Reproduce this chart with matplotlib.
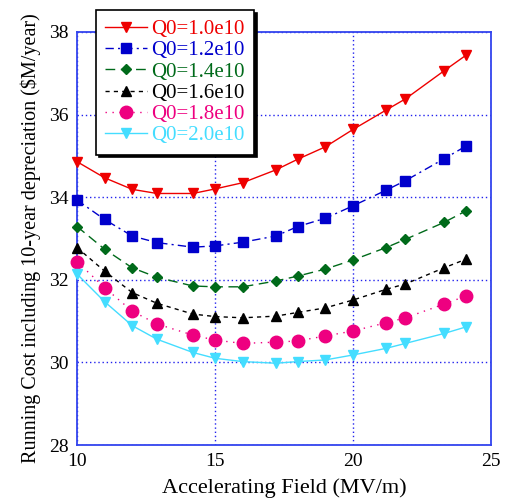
"""Running cost vs accelerating field for several Q0 values."""
import matplotlib
matplotlib.use("Agg")
import matplotlib.pyplot as plt

field = [10.0, 11.0, 12.0, 12.9, 14.2, 15.0, 16.0, 17.2, 18.0, 19.0, 20.0, 21.2, 21.9, 23.3, 24.1]

labels = ["Q0=1.0e10", "Q0=1.2e10", "Q0=1.4e10", "Q0=1.6e10", "Q0=1.8e10", "Q0=2.0e10"]
cost_10 = [34.86, 34.47, 34.19, 34.09, 34.09, 34.20, 34.35, 34.66, 34.92, 35.22, 35.64, 36.11, 36.38, 37.06, 37.44]
cost_12 = [33.93, 33.46, 33.06, 32.90, 32.79, 32.82, 32.91, 33.06, 33.29, 33.49, 33.79, 34.17, 34.40, 34.93, 35.24]
cost_14 = [33.29, 32.74, 32.29, 32.06, 31.85, 31.83, 31.83, 31.97, 32.09, 32.26, 32.48, 32.78, 32.98, 33.39, 33.67]
cost_16 = [32.78, 32.21, 31.69, 31.43, 31.17, 31.11, 31.08, 31.12, 31.21, 31.32, 31.51, 31.77, 31.90, 32.29, 32.50]
cost_18 = [32.44, 31.81, 31.24, 30.93, 30.66, 30.54, 30.46, 30.49, 30.52, 30.64, 30.76, 30.96, 31.08, 31.41, 31.61]
cost_20 = [32.14, 31.47, 30.89, 30.56, 30.24, 30.10, 30.02, 29.98, 30.02, 30.06, 30.18, 30.34, 30.46, 30.70, 30.86]
series = [cost_10, cost_12, cost_14, cost_16, cost_18, cost_20]

colors = ["#ee0000", "#0000cc", "#006a1a", "#000000", "#ee0080", "#44ddff"]
markers = ["v", "s", "D", "^", "o", "v"]
msizes = [7, 6.5, 5.5, 7, 9, 7]
styles = ["-", (0, (6, 3, 1.5, 3)), (0, (7, 4)), (0, (3, 3)), (0, (1, 4)), "-"]

plt.rcParams["font.family"] = ["Liberation Serif", "DejaVu Serif"]

fig = plt.figure(figsize=(5.08, 5.03), dpi=100)
ax = fig.add_axes([0.1516, 0.1153, 0.8149, 0.8211])

for y, lab, c, m, ms, ls in zip(series, labels, colors, markers, msizes, styles):
    ax.plot(field, y, color=c, marker=m, markersize=ms, linestyle=ls,
            linewidth=1.0, label=lab, clip_on=False, zorder=3)

ax.set_xlim(10, 25)
ax.set_ylim(28, 38)
ax.set_xticks([10, 15, 20, 25])
ax.set_yticks([28, 30, 32, 34, 36, 38])
ax.grid(True, color="#2222ee", linestyle=(0, (1, 2)), linewidth=1.0)
for sp in ax.spines.values():
    sp.set_color("#3344ee")
    sp.set_linewidth(1.3)
ax.tick_params(length=0, labelsize=14, pad=6)
ax.set_xlabel("Accelerating Field (MV/m)", fontsize=16, labelpad=6)
ax.set_ylabel("Running Cost including 10-year depreciation ($M/year)", fontsize=14.5, labelpad=6)

leg = ax.legend(loc="upper left", bbox_to_anchor=(0.046, 1.053), borderaxespad=0,
                fontsize=15, labelcolor="linecolor", fancybox=False, framealpha=1,
                edgecolor="black", shadow={"color": "black", "alpha": 1},
                handlelength=2.0, handletextpad=0.2, labelspacing=0.08,
                borderpad=0.45)
leg.get_frame().set_linewidth(1.2)
leg.set_zorder(5)

fig.savefig("out.png", dpi=100)
